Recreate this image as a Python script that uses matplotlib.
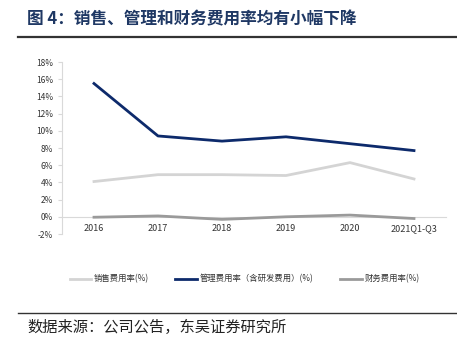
import matplotlib.pyplot as plt
import numpy as np

plt.rcParams['font.family'] = ['Noto Sans CJK SC', 'DejaVu Sans']

years = ["2016", "2017", "2018", "2019", "2020", "2021Q1-Q3"]
sales_rate = [4.1, 4.9, 4.9, 4.8, 6.3, 4.4]
admin_rate = [15.5, 9.4, 8.8, 9.3, 8.5, 7.7]
fin_rate = [-0.05, 0.1, -0.3, 0.0, 0.2, -0.2]
yticks = [-2, 0, 2, 4, 6, 8, 10, 12, 14, 16, 18]

W, H = 457, 353
fig = plt.figure(figsize=(W / 100, H / 100), dpi=100)

# title and rules
fig.text(27 / W, 1 - 19 / H, "图 4：销售、管理和财务费用率均有小幅下降", fontsize=12,
         fontweight='bold', color='#1f3864', va='center', ha='left')
fig.add_artist(plt.Line2D([18 / W, 1], [1 - 37 / H] * 2, color='#333333', lw=1.6))
fig.add_artist(plt.Line2D([18 / W, 1], [1 - 313 / H] * 2, color='#333333', lw=1.0))
fig.text(27 / W, 1 - 327 / H, "数据来源：公司公告，东吴证券研究所", fontsize=11,
         color='#222222', va='center', ha='left')

ax = fig.add_axes([62 / W, 1 - 234 / H, (446 - 62) / W, (234 - 62) / H])
x = np.arange(len(years))
ax.plot(x, sales_rate, color='#d4d4d4', lw=2, label='销售费用率(%)')
ax.plot(x, admin_rate, color='#0d2a6b', lw=2, label='管理费用率（含研发费用）(%)')
ax.plot(x, fin_rate, color='#9a9a9a', lw=2, label='财务费用率(%)')

ax.set_xlim(-0.5, len(years) - 0.5)
ax.set_ylim(-2, 18)
ax.set_yticks(yticks)
ax.set_yticklabels([f"{v}%" for v in yticks])
ax.set_xticks(x)
ax.set_xticklabels(years)
for s in ['top', 'right']:
    ax.spines[s].set_visible(False)
ax.spines['bottom'].set_position(('data', 0))
ax.spines['bottom'].set_color('#d9d9d9')
ax.spines['bottom'].set_zorder(0)
ax.spines['left'].set_color('#d9d9d9')
ax.tick_params(axis='y', labelsize=6, colors='#d9d9d9', labelcolor='#333333', length=3)
ax.tick_params(axis='x', labelsize=6.5, length=0, labelcolor='#333333', pad=5)

fig.legend(loc='center left', bbox_to_anchor=(62 / W, 1 - 279 / H), ncol=3, frameon=False,
           fontsize=6, handlelength=2.6, handletextpad=0.3, columnspacing=3.2,
           labelcolor='#333333')

plt.savefig('out.png', dpi=100)
